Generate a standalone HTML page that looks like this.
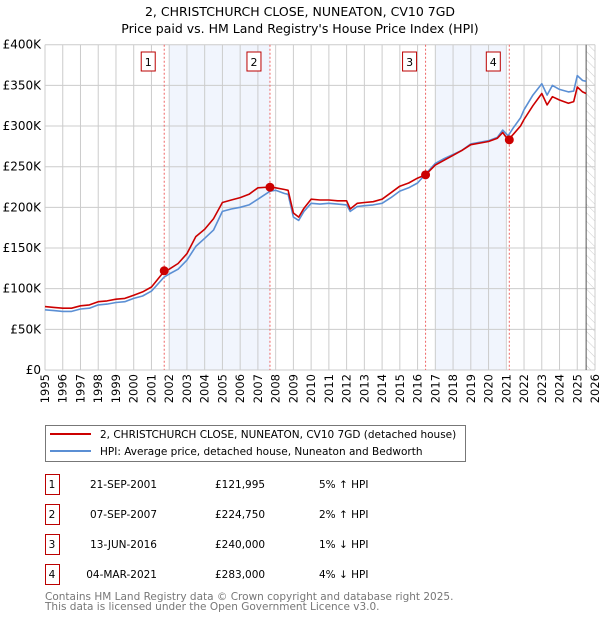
<!DOCTYPE html>
<html><head><meta charset="utf-8"><style>
body{margin:0;background:#fff;width:600px;height:620px;overflow:hidden;font-family:"DejaVu Sans","Liberation Sans",sans-serif;}
svg text{font-family:"DejaVu Sans","Liberation Sans",sans-serif;}
</style></head><body>
<svg id="c" width="600" height="620" xmlns="http://www.w3.org/2000/svg">
<text x="300" y="16" text-anchor="middle" font-size="12.5">2, CHRISTCHURCH CLOSE, NUNEATON, CV10 7GD</text>
<text x="300" y="33" text-anchor="middle" font-size="12.5">Price paid vs. HM Land Registry's House Price Index (HPI)</text>
<g id="plot"></g>
<g>
<rect x="45.5" y="425.5" width="420" height="36" fill="#fff" stroke="#777"/>
<line x1="50" y1="434" x2="91" y2="434" stroke="#cc0000" stroke-width="2"/>
<text x="100" y="438" font-size="10.5">2, CHRISTCHURCH CLOSE, NUNEATON, CV10 7GD (detached house)</text>
<line x1="50" y1="451" x2="91" y2="451" stroke="#5b8fd4" stroke-width="2"/>
<text x="100" y="455" font-size="10.5">HPI: Average price, detached house, Nuneaton and Bedworth</text>
</g>
<g id="tbl" font-size="10.5"></g>
<text x="45" y="600" font-size="10.5" fill="#777">Contains HM Land Registry data © Crown copyright and database right 2025.</text>
<text x="45" y="610" font-size="10.5" fill="#777">This data is licensed under the Open Government Licence v3.0.</text>
</svg>
<script>
const years=[1995,1995.5,1996,1996.5,1997,1997.5,1998,1998.5,1999,1999.5,2000,2000.5,2001,2001.7,2002,2002.5,2003,2003.5,2004,2004.5,2005,2005.5,2006,2006.5,2007,2007.7,2008,2008.5,2008.7,2009,2009.3,2009.6,2010,2010.5,2011,2011.5,2012,2012.2,2012.6,2013,2013.5,2014,2014.5,2015,2015.5,2016,2016.45,2017,2017.5,2018,2018.5,2019,2019.5,2020,2020.5,2020.8,2021.1,2021.4,2021.8,2022,2022.5,2023,2023.3,2023.6,2024,2024.5,2024.8,2025,2025.3,2025.5];
const hpi=[74,73,72,72,75,76,80,81,83,84,88,91,97,114,118,124,135,152,162,172,195,198,200,203,210,220,221,217,216,188,184,195,205,204,205,204,203,195,201,202,203,205,212,220,224,230,241,254,260,265,270,278,280,282,286,295,288,298,310,320,338,352,338,350,345,342,343,362,356,355];
const paid=[78,77,76,76,79,80,84,85,87,88,92,96,102,121,124,131,143,164,173,186,206,209,212,216,224,225,224,222,221,193,188,199,210,209,209,208,208,198,205,206,207,210,218,226,230,236,240,252,258,264,270,277,279,281,285,292,283,290,300,308,325,340,326,336,332,328,330,348,342,340];
const saleYears=[2001.72,2007.68,2016.45,2021.17];
const salePrices=[121.995,224.75,240,283];
const saleLabels=["1","2","3","4"];
const saleDates=["21-SEP-2001","07-SEP-2007","13-JUN-2016","04-MAR-2021"];
const salePriceText=["£121,995","£224,750","£240,000","£283,000"];
const saleHpi=["5% ↑ HPI","2% ↑ HPI","1% ↓ HPI","4% ↓ HPI"];
const yTicks=[0,50,100,150,200,250,300,350,400];
const yTickLabels=["£0","£50K","£100K","£150K","£200K","£250K","£300K","£350K","£400K"];
const shadeRanges=[[2002,2007.68],[2017,2020.95]];
const NS="http://www.w3.org/2000/svg";
const X0=45,X1=595,Y0=370,Y1=44.7;
const xs=y=>X0+(y-1995)/(2026-1995)*(X1-X0);
const ys=v=>Y0-v/400*(Y0-Y1);
const plot=document.getElementById('plot');
function mk(t,a,p){const e=document.createElementNS(NS,t);for(const k in a)e.setAttribute(k,a[k]);(p||plot).appendChild(e);return e;}
shadeRanges.forEach(r=>{const e=mk('rect',{x:xs(r[0]),y:Y1,width:xs(r[1])-xs(r[0]),height:Y0-Y1,fill:'#eef3fc',opacity:0.8});

});
const defs=mk('defs',{});
const pat=mk('pattern',{id:'h',width:6,height:6,patternUnits:'userSpaceOnUse',patternTransform:'rotate(-45)'},defs);
mk('line',{x1:0,y1:0,x2:0,y2:6,stroke:'#ccc','stroke-width':1},pat);
const hx=xs(2025.5);
const ha=mk('rect',{x:hx,y:Y1,width:X1-hx,height:Y0-Y1,fill:'url(#h)'});


for(let y=1995;y<=2026;y++){const g=mk('line',{x1:xs(y),x2:xs(y),y1:Y1,y2:Y0,stroke:'#ccc','stroke-width':1});


const t=mk('text',{transform:`translate(${xs(y)+4},${Y0+4}) rotate(-90)`,'text-anchor':'end','font-size':11.5});t.textContent=y;

}
yTicks.forEach((v,i)=>{const g=mk('line',{x1:X0,x2:X1,y1:ys(v),y2:ys(v),stroke:'#ccc','stroke-width':1});


const t=mk('text',{x:X0-4,y:ys(v)+4,'text-anchor':'end','font-size':12});t.textContent=yTickLabels[i];

});
const vl=mk('line',{x1:hx,x2:hx,y1:Y1,y2:Y0,stroke:'#555','stroke-width':1});


saleYears.forEach(y=>{const l=mk('line',{x1:xs(y),x2:xs(y),y1:Y1,y2:Y0,stroke:'#e66','stroke-width':1,'stroke-dasharray':'2,2'});

});
function path(vals,col,name){const d=years.map((y,i)=>(i?'L':'M')+xs(y).toFixed(1)+','+ys(vals[i]).toFixed(1)).join('');
const p=mk('path',{d:d,fill:'none',stroke:col,'stroke-width':1.6,'stroke-linejoin':'round'});

}
path(hpi,'#5b8fd4','hpi-line');
path(paid,'#cc0000','price-paid-line');
saleYears.forEach((y,i)=>{const c=mk('circle',{cx:xs(y),cy:ys(salePrices[i]),r:4.5,fill:'#cc0000'});


const bx=xs(y)-16;
const r=mk('rect',{x:bx-7,y:52,width:14,height:19,fill:'#fff',stroke:'#b00','stroke-width':1});


const t=mk('text',{x:bx,y:66,'text-anchor':'middle','font-size':11});t.textContent=saleLabels[i];

});
const tbl=document.getElementById('tbl');
saleLabels.forEach((l,i)=>{const cy=483+i*30;
const r=mk('rect',{x:45.5,y:cy-8.5,width:14,height:20,fill:'#fff',stroke:'#b00'},tbl);


const cols=[[52,l,'middle'],[157,saleDates[i],'end'],[215,salePriceText[i],'start'],[319,saleHpi[i],'start']];
cols.forEach(c=>{const t=mk('text',{x:c[0],y:cy+5,'text-anchor':c[2]},tbl);t.textContent=c[1];

});});
</script>
</body></html>
